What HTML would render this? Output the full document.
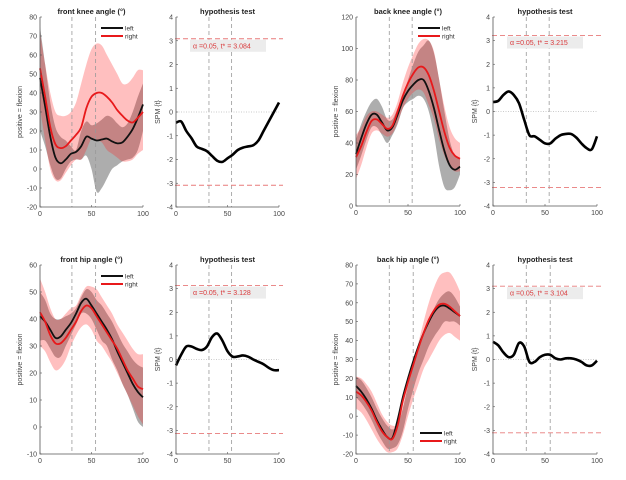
<!DOCTYPE html>
<html><head><meta charset="utf-8">
<style>
body{margin:0;background:#fff;}
svg{display:block;font-family:"Liberation Sans",sans-serif;}
</style></head>
<body>
<svg id="fig" width="626" height="480" viewBox="0 0 626 480"></svg>
<script>
// ---- data (x grid 0..100 step 5) ----
const xGrid = [0,5,10,15,20,25,30,35,40,45,50,55,60,65,70,75,80,85,90,95,100];

const fkLeft   = [48,33,17,6,3,5,8,9,12,17,16,15,15.5,16,14.5,13.5,14,17,21,27,34];
const fkLeftHi = [75,55,35,22,17,15,12,10,20,25,23,24,26,28,27,24,22,24,30,38,45];
const fkLeftLo = [20,12,2,-5,-5,0,4,5,5,7,0,-12,-10,-5,0,2,4,5,6,10,20];
const fkRight  = [53,38,22,13,11,12,15,18,22,32,38,40,40,38,35,31,28,25.5,24.5,27,30];
const fkRightHi= [72,55,40,30,28,28,30,35,45,55,63,66,65,60,55,50,45,45,48,52,52];
const fkRightLo= [32,15,0,-6,-6,-2,2,5,5,10,16,15,14,10,8,6,4,4,5,8,10];
const fkSPM    = [-0.45,-0.4,-0.8,-1.1,-1.45,-1.55,-1.65,-1.85,-2.05,-2.1,-1.95,-1.8,-1.6,-1.5,-1.45,-1.4,-1.2,-0.8,-0.4,0,0.4];

const bkLeft   = [33,43,52,58,58,53,48,50,58,67,73,77,80,80,73,62,48,35,26,23,25];
const bkLeftHi = [42,52,60,66,68,63,55,55,62,70,80,90,98,102,105,97,80,60,42,32,30];
const bkLeftLo = [23,32,42,50,50,45,40,45,52,62,66,68,70,68,60,45,25,12,10,12,20];
const bkRight  = [31,38,47,54,55,52,49,51,60,70,78,84,88,88,83,73,60,47,37,32,30];
const bkRightHi= [45,50,57,60,60,58,56,58,66,78,88,96,103,106,105,98,80,63,50,43,40];
const bkRightLo= [17,26,37,46,48,46,44,46,53,62,68,72,74,72,64,55,42,32,25,22,22];
const bkSPM    = [0.4,0.45,0.7,0.85,0.7,0.35,-0.35,-1.0,-1.05,-1.2,-1.35,-1.35,-1.15,-1.0,-0.95,-0.95,-1.1,-1.35,-1.55,-1.6,-1.05];

const fhLeft   = [41,39,36,33,33.5,36,38.5,42,46,47.5,45,42,39,36,32.5,28,24,20,16,13,11];
const fhLeftHi = [50,47,42,40,40,41,42,44,48,51,50,47,45,42,39,35,31,28,25,23,22];
const fhLeftLo = [32,32,29,26,26,30,34,38,42,42,40,36,32,30,25,21,16,12,7,2,0];
const fhRight  = [42.5,39,34,31,31,33,36,39,43,45,44,41,38,35,32,29,25,21,18,15,14];
const fhRightHi= [55,50,44,40,40,42,44,45,49,52,52,51,48,45,42,38,35,32,29,27,27];
const fhRightLo= [30,28,24,21,22,25,30,34,37,38,36,32,30,27,24,20,16,12,8,4,1];
const fhSPM    = [-0.25,0.2,0.55,0.55,0.45,0.4,0.55,0.95,1.1,0.8,0.35,0.12,0.13,0.17,0.12,0.0,-0.1,-0.2,-0.35,-0.45,-0.45];

const bhLeft   = [16,13,9,4,-2,-7,-11,-11.5,-2,10,20,29,37,44,50,55,58,58.5,57,55,53];
const bhLeftHi = [21,19,15,10,4,-1,-5,-7,-5,4,16,26,35,43,51,57,62,65,66,63,58];
const bhLeftLo = [10,7,3,-2,-8,-13,-17,-17,-15,-8,4,14,23,30,37,42,46,50,50,50,48];
const bhRight  = [13,11,7.5,3,-3,-8,-11,-12,-5,8,18,27,36,44,51,56,59,59.5,58,55.5,53];
const bhRightHi= [21,20,17,13,7,1,-3,-5,-4,5,18,29,39,50,60,68,74,76,76,72,66];
const bhRightLo= [4,2,-2,-7,-12,-16,-19,-19,-17,-10,0,9,17,25,30,35,40,43,44,42,40];
const bhSPM    = [0.75,0.6,0.3,0.1,0.2,0.7,0.55,-0.1,-0.1,0.1,0.2,0.2,0.05,0.0,0.05,0.05,0.0,-0.1,-0.25,-0.25,-0.05];

const xTicks = [0,50,100];
const spmTicks = [-4,-3,-2,-1,0,1,2,3,4];
const fkTicks = [-20,-10,0,10,20,30,40,50,60,70,80];
const bkTicks = [0,20,40,60,80,100,120];
const fhTicks = [-10,0,10,20,30,40,50,60];
const bhTicks = [-20,-10,0,10,20,30,40,50,60,70,80];
const thresholds = [3.084,3.215,3.128,3.104];

const NS = "http://www.w3.org/2000/svg";
const svg = document.getElementById('fig');
function el(tag, attrs, parent){
  const e = document.createElementNS(NS, tag);
  for (const k in attrs) e.setAttribute(k, attrs[k]);
  (parent||svg).appendChild(e);
  return e;
}
function makeScale(d0,d1,r0,r1){return v=>r0+(v-d0)/(d1-d0)*(r1-r0);}
function smoothPath(pts, move){
  let d = (move? "M":"L")+pts[0][0].toFixed(2)+","+pts[0][1].toFixed(2);
  for(let i=0;i<pts.length-1;i++){
    const p0=pts[Math.max(0,i-1)],p1=pts[i],p2=pts[i+1],p3=pts[Math.min(pts.length-1,i+2)];
    const c1=[p1[0]+(p2[0]-p0[0])/6,p1[1]+(p2[1]-p0[1])/6];
    const c2=[p2[0]-(p3[0]-p1[0])/6,p2[1]-(p3[1]-p1[1])/6];
    d+="C"+c1[0].toFixed(2)+","+c1[1].toFixed(2)+" "+c2[0].toFixed(2)+","+c2[1].toFixed(2)+" "+p2[0].toFixed(2)+","+p2[1].toFixed(2);
  }
  return d;
}
function axes(g, b, yTicks, sx, sy, title, ylabel){
  const [x0,y0,x1,y1]=b;
  const ax = el('path',{d:`M${x0},${y0}V${y1}H${x1}`,stroke:'#555',fill:'none','stroke-width':0.8},g);
  
  
  yTicks.forEach(t=>{
    const y=sy(t);
    el('line',{x1:x0,x2:x0+2,y1:y,y2:y,stroke:'#555','stroke-width':0.6},g);
    const tx=el('text',{x:x0-3,y:y+2.5,'font-size':7,'text-anchor':'end',fill:'#444'},g);
    tx.textContent=t;
    
    
  });
  xTicks.forEach(t=>{
    const x=sx(t);
    el('line',{x1:x,x2:x,y1:y1,y2:y1-2,stroke:'#555','stroke-width':0.6},g);
    const tx=el('text',{x:x,y:y1+9,'font-size':7,'text-anchor':'middle',fill:'#444'},g);
    tx.textContent=t;
    
    
  });
  const tt=el('text',{x:(x0+x1)/2,y:y0-3,'font-size':7.5,'font-weight':'bold','text-anchor':'middle',fill:'#222'},g);
  tt.textContent=title;
  
  
  const yl=el('text',{x:0,y:0,'font-size':7,'text-anchor':'middle',fill:'#444',transform:`translate(${ylabel[1]},${(y0+y1)/2}) rotate(-90)`},g);
  yl.textContent=ylabel[0];
  
  
}
function vlines(g,b,sx,xs){
  xs.forEach(v=>{
    const l=el('line',{x1:sx(v),x2:sx(v),y1:b[1],y2:b[3],stroke:'#999','stroke-width':0.8,'stroke-dasharray':'4,3'},g);
    
    
  });
}
function band(g,sx,sy,hi,lo,fill,op,name){
  const top=xGrid.map((x,i)=>[sx(x),sy(hi[i])]);
  const bot=xGrid.map((x,i)=>[sx(x),sy(lo[i])]).reverse();
  const p=el('path',{d:smoothPath(top,true)+smoothPath(bot,false)+"Z",fill:fill,'fill-opacity':op,stroke:'none'},g);
  
  
}
function line(g,sx,sy,vals,color,w,name){
  const pts=xGrid.map((x,i)=>[sx(x),sy(vals[i])]);
  const p=el('path',{d:smoothPath(pts,true),fill:'none',stroke:color,'stroke-width':w,'stroke-linejoin':'round'},g);
  
  
}
function legend(g,x,y){
  [['left','#111'],['right','#e8191b']].forEach((e,i)=>{
    const yy=y+i*8;
    const l=el('line',{x1:x,x2:x+22,y1:yy,y2:yy,stroke:e[1],'stroke-width':2},g);
    
    
    const t=el('text',{x:x+24,y:yy+2.5,'font-size':6.5,fill:'#333'},g);
    t.textContent=e[0];
    
    
  });
}
function anglePanel(name,b,ymin,ymax,yTicks,title,L,LH,LL,R,RH,RL,vl,leg){
  const g=el('g',{});
  
  
  const sx=makeScale(0,100,b[0],b[2]), sy=makeScale(ymin,ymax,b[3],b[1]);
  band(g,sx,sy,LH,LL,'#000',0.32,'left-sd-band');
  band(g,sx,sy,RH,RL,'#ff1a1a',0.28,'right-sd-band');
  vlines(g,b,sx,vl);
  line(g,sx,sy,L,'#111',1.8,'left-mean-line');
  line(g,sx,sy,R,'#e8191b',1.8,'right-mean-line');
  axes(g,b,yTicks,sx,sy,title,['positive = flexion',b[0]-18]);
  legend(g,leg[0],leg[1]);
}
function spmPanel(name,b,spm,th,vl){
  const g=el('g',{});
  
  
  const sx=makeScale(0,100,b[0],b[2]), sy=makeScale(-4,4,b[3],b[1]);
  el('line',{x1:b[0],x2:b[2],y1:sy(0),y2:sy(0),stroke:'#bbb','stroke-width':0.7,'stroke-dasharray':'1,1.5'},g);
  vlines(g,b,sx,vl);
  [th,-th].forEach(v=>{
    const l=el('line',{x1:b[0]-1,x2:b[2]+4,y1:sy(v),y2:sy(v),stroke:'#e87a7a','stroke-width':0.9,'stroke-dasharray':'5,3'},g);
    
    
  });
  const bx=b[0]+14, by=sy(th)+1;
  const r=el('rect',{x:bx,y:by,width:76,height:12,fill:'#ececec'},g);
  
  
  const t=el('text',{x:bx+3,y:by+8.5,'font-size':7,fill:'#d9383a'},g);
  t.textContent='\u03b1  =0.05,     t* = '+th.toFixed(3);
  
  
  line(g,sx,sy,spm,'#000',2.6,'spm-t-curve');
  axes(g,b,spmTicks,sx,sy,'hypothesis test',['SPM {t}',b[0]-16]);
}
anglePanel('front-knee-panel',[40,17,143,207],-20,80,fkTicks,'front knee angle (\u00b0)',fkLeft,fkLeftHi,fkLeftLo,fkRight,fkRightHi,fkRightLo,[31,54],[101,28]);
spmPanel('front-knee-spm-panel',[176,17,279,207],fkSPM,thresholds[0],[32,54]);
anglePanel('back-knee-panel',[356,17,460,206],0,120,bkTicks,'back knee angle (\u00b0)',bkLeft,bkLeftHi,bkLeftLo,bkRight,bkRightHi,bkRightLo,[32,54],[418,28]);
spmPanel('back-knee-spm-panel',[493,17,597,206],bkSPM,thresholds[1],[32,54]);
anglePanel('front-hip-panel',[40,265,143,454],-10,60,fhTicks,'front hip angle (\u00b0)',fhLeft,fhLeftHi,fhLeftLo,fhRight,fhRightHi,fhRightLo,[31,54],[101,276]);
spmPanel('front-hip-spm-panel',[176,265,279,454],fhSPM,thresholds[2],[32,54]);
anglePanel('back-hip-panel',[356,265,460,454],-20,80,bhTicks,'back hip angle (\u00b0)',bhLeft,bhLeftHi,bhLeftLo,bhRight,bhRightHi,bhRightLo,[32,55],[420,433]);
spmPanel('back-hip-spm-panel',[493,265,597,454],bhSPM,thresholds[3],[32,55]);
</script>
</body></html>
